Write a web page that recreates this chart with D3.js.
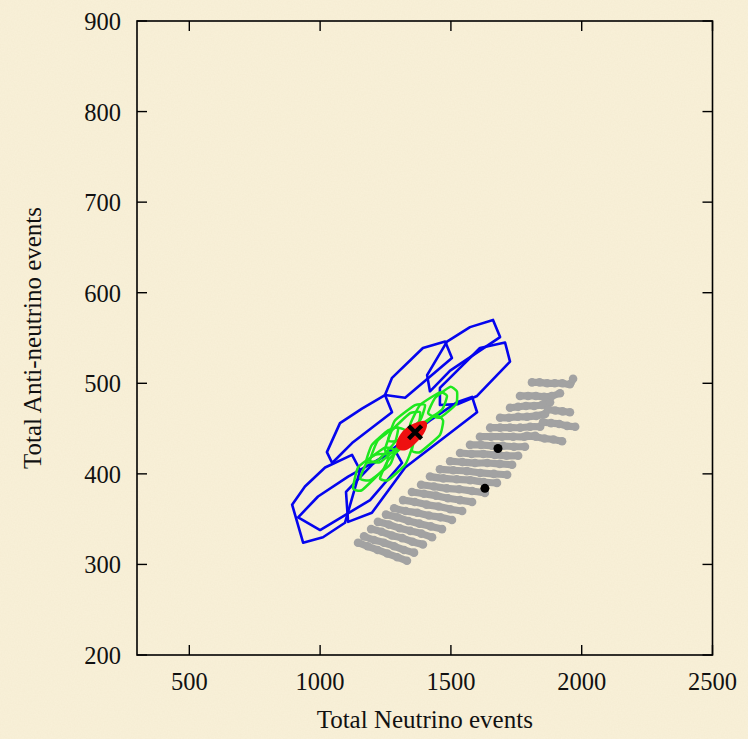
<!DOCTYPE html>
<html>
<head>
<meta charset="utf-8">
<script src="https://cdn.jsdelivr.net/npm/d3@7"></script>
<style>
html,body{margin:0;padding:0;background:#f8f0d7;}
svg{display:block;}
text{font-family:"Liberation Serif","DejaVu Serif",serif;fill:#111;}
</style>
</head>
<body>
<svg id="chart" width="748" height="739"></svg>
<script>
// ---------------- data ----------------
const xTicks = [500, 1000, 1500, 2000, 2500];
const yTicks = [200, 300, 400, 500, 600, 700, 800, 900];
const xLabel = "Total Neutrino events";
const yLabel = "Total Anti-neutrino events";

// blue contours [N, Nbar]
const blueContours = [
  [[1420,491],[1409,509],[1485,546],[1573,562],[1661,570],[1688,551],[1497,514]],
  [[1458,476],[1458,495],[1611,539],[1707,545],[1726,524],[1600,486],[1527,477]],
  [[1248,487],[1275,506],[1393,539],[1478,546],[1504,528],[1325,484]],
  [[1046,412],[1026,424],[1076,456],[1160,472],[1248,487],[1275,468],[1122,434]],
  [[1107,347],[1099,380],[1198,410],[1420,459],[1523,479],[1581,485],[1600,468],[1325,407],[1198,357]],
  [[935,324],[893,366],[942,386],[1019,407],[1122,421],[1153,404],[1095,346],[1011,330]],
  [[916,352],[992,375],[1107,397],[1286,426],[1313,412],[1191,371],[1000,338]]
];

// green contours
const greenContours = [
  [[1413,467],[1440,484],[1497,496],[1523,491],[1520,477],[1458,462]],
  [[1344,454],[1382,476],[1458,490],[1485,486],[1466,471],[1382,454]],
  [[1351,426],[1374,448],[1440,465],[1470,459],[1458,443],[1382,424]],
  [[1248,426],[1275,448],[1344,467],[1382,468],[1374,454],[1286,424]],
  [[1191,415],[1221,437],[1286,451],[1325,448],[1306,432],[1229,413]],
  [[1126,384],[1145,407],[1210,421],[1260,421],[1248,407],[1160,382]],
  [[1153,395],[1183,415],[1248,429],[1286,426],[1267,410],[1191,393]],
  [[1229,395],[1260,415],[1325,432],[1351,429],[1325,410],[1260,393]],
  [[1260,437],[1286,459],[1363,476],[1401,476],[1382,459],[1298,437]],
  [[1176,413],[1198,432],[1260,448],[1298,451],[1286,435],[1221,415]]
];

// red contour
const redContours = [
  [[1298,430],[1313,443],[1363,454],[1401,456],[1390,445],[1325,428]]
];

// gray scan points, grouped in strands
const grayStrands = [
  [[1145,324],[1182,320],[1220,316],[1257,312],[1295,308],[1332,304]],
  [[1168,331],[1206,327],[1244,324],[1283,320],[1321,316],[1359,313]],
  [[1195,339],[1235,336],[1274,332],[1314,329],[1353,325],[1393,322]],
  [[1221,347],[1262,344],[1304,340],[1345,337],[1387,334],[1428,330]],
  [[1252,355],[1295,352],[1338,348],[1380,345],[1423,342],[1466,339]],
  [[1283,362],[1327,359],[1371,357],[1416,354],[1460,352],[1504,349]],
  [[1317,371],[1362,369],[1407,366],[1453,364],[1498,361],[1543,359]],
  [[1351,380],[1397,378],[1443,376],[1489,373],[1535,371],[1581,369]],
  [[1386,388],[1435,386],[1484,384],[1532,383],[1581,381],[1630,379]],
  [[1420,397],[1471,395],[1522,394],[1574,393],[1625,391],[1676,390]],
  [[1458,405],[1509,404],[1561,403],[1612,401],[1664,400],[1715,399]],
  [[1497,414],[1544,413],[1592,412],[1639,412],[1687,411],[1734,410]],
  [[1535,423],[1579,422],[1624,422],[1668,421],[1713,420],[1757,420]],
  [[1573,432],[1615,432],[1657,431],[1699,431],[1741,430],[1783,430]],
  [[1611,441],[1653,441],[1695,441],[1738,441],[1780,441],[1822,442]],
  [[1650,451],[1688,451],[1726,451],[1765,451],[1803,452],[1841,452]],
  [[1688,462],[1722,462],[1757,463],[1791,463],[1826,464],[1860,466]],
  [[1726,473],[1757,474],[1787,475],[1818,475],[1848,476],[1879,479]],
  [[1764,486],[1795,486],[1825,486],[1856,485],[1886,486],[1917,489]],
  [[1810,501],[1839,501],[1868,500],[1897,500],[1926,500],[1955,499],[1967,505]],
  [[1852,457],[1883,456],[1914,455],[1944,453],[1975,452]],
  [[1791,442],[1825,441],[1858,439],[1892,438],[1925,436]],
  [[1871,471],[1899,470],[1927,469],[1955,468]]
];

const blackDots = [[1680,428],[1630,384]];
const bestFit = [1363,446];

// ---------------- layout ----------------
const svg = d3.select("#chart");
const W = 748, H = 739;
const mLeft = 137, mRight = 712.5, mTop = 21, mBottom = 655;

const x = d3.scaleLinear().domain([300, 2500]).range([mLeft, mRight]);
const y = d3.scaleLinear().domain([200, 900]).range([mBottom, mTop]);

// background with subtle paper texture
const defs = svg.append("defs");
const f = defs.append("filter").attr("id","paper").attr("x",0).attr("y",0).attr("width","100%").attr("height","100%");
f.append("feTurbulence").attr("type","fractalNoise").attr("baseFrequency",0.7).attr("numOctaves",2).attr("seed",3).attr("result","n");
f.append("feColorMatrix").attr("in","n").attr("type","matrix")
  .attr("values","0 0 0 0 0.55  0 0 0 0 0.45  0 0 0 0 0.25  0 0 0 0.08 0");
svg.append("rect").attr("width",W).attr("height",H).attr("fill","#f9f1d9");
svg.append("rect").attr("width",W).attr("height",H).attr("filter","url(#paper)");

const plot = svg.append("g");

// gray strands
const grayLine = d3.line().x(d => x(d[0])).y(d => y(d[1])).curve(d3.curveCatmullRom);
plot.append("g").selectAll("path").data(grayStrands).join("path")
  .attr("d", grayLine).attr("fill","none").attr("stroke","#a2a2a2")
  .attr("stroke-width",7.2).attr("stroke-linecap","round").attr("stroke-linejoin","round");
plot.append("g").selectAll("circle").data(grayStrands.flat()).join("circle")
  .attr("cx", d => x(d[0])).attr("cy", d => y(d[1])).attr("r",4.3).attr("fill","#a2a2a2");

// blue contours
const polyLine = d3.line().x(d => x(d[0])).y(d => y(d[1])).curve(d3.curveLinearClosed);
plot.append("g").selectAll("path").data(blueContours).join("path")
  .attr("d", polyLine).attr("fill","none").attr("stroke","#0505ee")
  .attr("stroke-width",2.6).attr("stroke-linejoin","round");

// green contours
const greenLine = d3.line().x(d => x(d[0])).y(d => y(d[1])).curve(d3.curveCardinalClosed.tension(0.55));
plot.append("g").selectAll("path").data(greenContours).join("path")
  .attr("d", greenLine).attr("fill","none").attr("stroke","#1ee81e")
  .attr("stroke-width",2.5).attr("stroke-linejoin","round");

// red contour
const redLine = d3.line().x(d => x(d[0])).y(d => y(d[1])).curve(d3.curveCatmullRomClosed.alpha(0.5));
plot.append("g").selectAll("path").data(redContours).join("path")
  .attr("d", redLine).attr("fill","#ee1010").attr("stroke","#ee1010")
  .attr("stroke-width",3.5);

// black dots
plot.append("g").selectAll("circle").data(blackDots).join("circle")
  .attr("cx", d => x(d[0])).attr("cy", d => y(d[1])).attr("r",4.5).attr("fill","#000");

// best fit cross
const bx = x(bestFit[0]), by = y(bestFit[1]), s = 6.5;
plot.append("path")
  .attr("d", `M${bx-s},${by-s}L${bx+s},${by+s}M${bx-s},${by+s}L${bx+s},${by-s}`)
  .attr("stroke","#000").attr("stroke-width",4.4).attr("fill","none");

// frame
svg.append("rect").attr("x",mLeft).attr("y",mTop).attr("width",mRight-mLeft).attr("height",mBottom-mTop)
  .attr("fill","none").attr("stroke","#000").attr("stroke-width",1.6);

// ticks (inward on all four sides)
const tl = 10;
const axes = svg.append("g").attr("stroke","#000").attr("stroke-width",1.4);
axes.append("g").selectAll("line").data(xTicks).join("line")
  .attr("x1", d => x(d)).attr("x2", d => x(d)).attr("y1", mBottom).attr("y2", mBottom - tl);
axes.append("g").selectAll("line").data(xTicks).join("line")
  .attr("x1", d => x(d)).attr("x2", d => x(d)).attr("y1", mTop).attr("y2", mTop + tl);
axes.append("g").selectAll("line").data(yTicks).join("line")
  .attr("y1", d => y(d)).attr("y2", d => y(d)).attr("x1", mLeft).attr("x2", mLeft + tl);
axes.append("g").selectAll("line").data(yTicks).join("line")
  .attr("y1", d => y(d)).attr("y2", d => y(d)).attr("x1", mRight).attr("x2", mRight - tl);

// tick labels
svg.append("g").selectAll("text").data(xTicks).join("text")
  .attr("x", d => x(d)).attr("y", 690).attr("text-anchor","middle")
  .attr("font-size",24.5).text(d => d);
svg.append("g").selectAll("text").data(yTicks).join("text")
  .attr("x", 121).attr("y", d => y(d) + 9).attr("text-anchor","end")
  .attr("font-size",24.5).text(d => d);

// axis titles
svg.append("text").attr("x",(mLeft+mRight)/2).attr("y",728).attr("text-anchor","middle")
  .attr("font-size",25).text(xLabel);
svg.append("text").attr("transform",`translate(41,${(mTop+mBottom)/2}) rotate(-90)`)
  .attr("text-anchor","middle").attr("font-size",25).text(yLabel);
</script>
</body>
</html>
